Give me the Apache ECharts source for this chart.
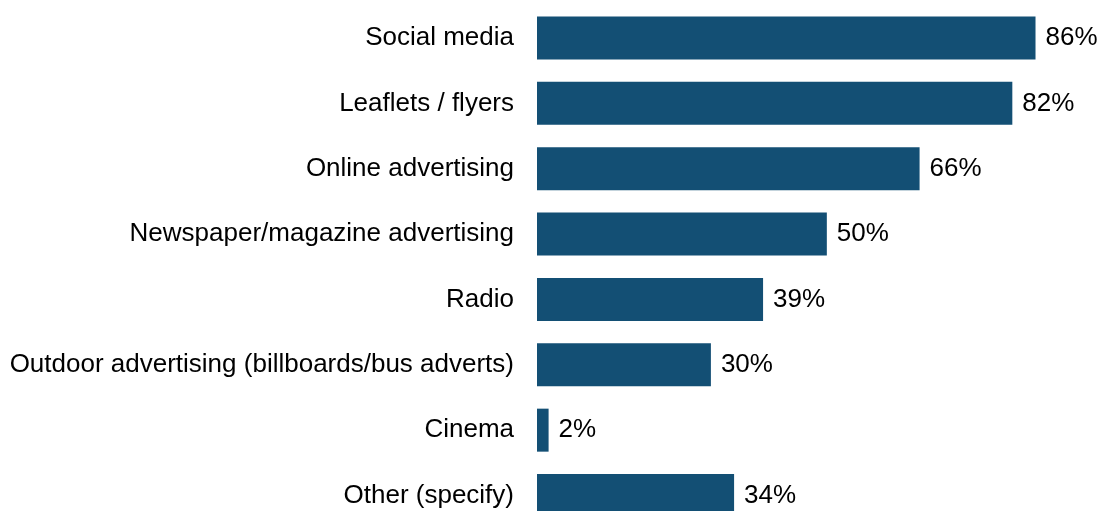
<!DOCTYPE html>
<html>
<head>
<meta charset="utf-8">
<script src="https://cdn.jsdelivr.net/npm/echarts@6/dist/echarts.min.js"></script>
<style>
html,body{margin:0;padding:0;background:#fff;}
#chart{width:1098px;height:511px;}
</style>
</head>
<body>
<div id="chart"></div>
<script>
const categories = [
  "Social media",
  "Leaflets / flyers",
  "Online advertising",
  "Newspaper/magazine advertising",
  "Radio",
  "Outdoor advertising (billboards/bus adverts)",
  "Cinema",
  "Other (specify)"
];
const values = [86, 82, 66, 50, 39, 30, 2, 34];

const chart = echarts.init(document.getElementById('chart'), null, {renderer: 'canvas'});
chart.setOption({
  animation: false,
  backgroundColor: '#ffffff',
  grid: { left: 537, top: 5.3, width: 521.7, height: 522.9, containLabel: false, outerBoundsMode: 'none' },
  xAxis: {
    type: 'value', min: 0, max: 90,
    show: false
  },
  yAxis: {
    type: 'category',
    data: categories,
    inverse: true,
    axisLine: { show: false },
    axisTick: { show: false },
    splitLine: { show: false },
    axisLabel: {
      margin: 23,
      color: '#000000',
      fontFamily: 'Liberation Sans, Arial, sans-serif',
      fontSize: 26
    }
  },
  series: [{
    type: 'bar',
    data: values,
    barWidth: 43,
    itemStyle: { color: '#134f74' },
    label: {
      show: true,
      position: 'right',
      distance: 10,
      formatter: '{c}%',
      color: '#000000',
      fontFamily: 'Liberation Sans, Arial, sans-serif',
      fontSize: 26
    }
  }]
});
</script>
</body>
</html>
